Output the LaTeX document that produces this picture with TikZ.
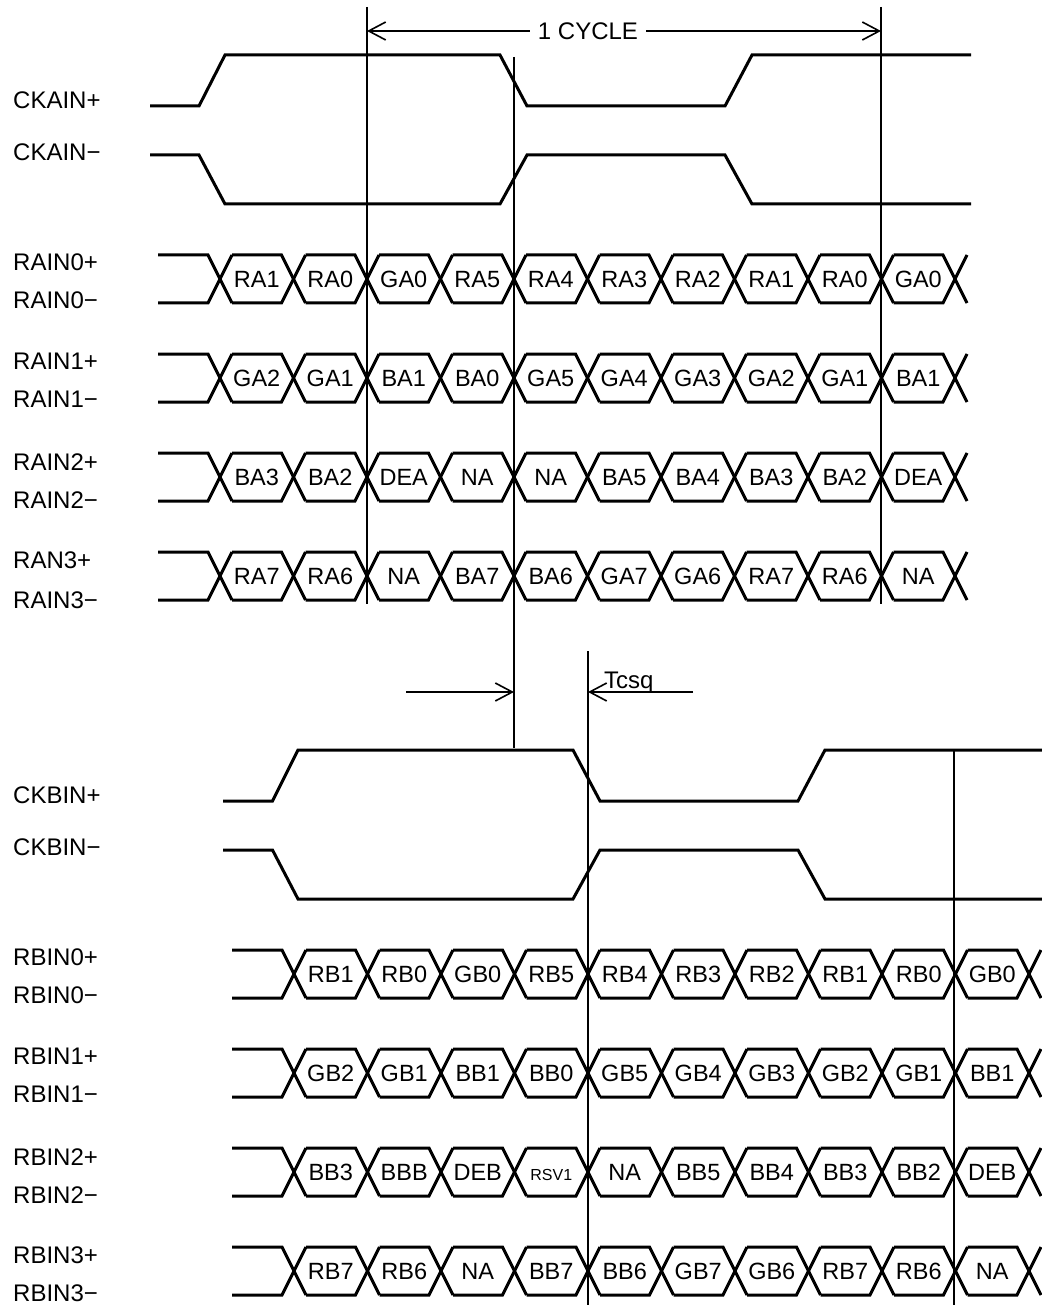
\documentclass[tikz,border=0pt]{standalone}
\usepackage{fontspec}
\setmainfont{Liberation Sans}
\usetikzlibrary{arrows.meta}
\newcommand{\rsvfont}{\fontsize{16}{16}\selectfont}
\newcommand{\drow}[5]{%
  \pgfmathsetmacro\rbot{#3+48}%
  \pgfmathsetmacro\rmid{#3+24}%
  \draw[wave] (#1,#3) -- (#2-12,#3) -- (#2+12,\rbot);
  \draw[wave] (#1,\rbot) -- (#2-12,\rbot) -- (#2+12,#3);
  \foreach \lab [count=\i from 0] in {#5} {
    \pgfmathsetmacro\ca{#2+73.5*\i}
    \pgfmathsetmacro\cb{#2+73.5*(\i+1)}
    \draw[wave] (\ca+12,#3) -- (\cb-12,#3) -- (\cb+12,\rbot);
    \draw[wave] (\ca+12,\rbot) -- (\cb-12,\rbot) -- (\cb+12,#3);
    \node[cell] (#4-\i) at ({(\ca+\cb)/2},\rmid) {\lab};
  }%
}
\begin{document}
\begin{tikzpicture}[x=1pt,y=-1pt,
  wave/.style={line width=3pt},
  vline/.style={line width=2.5pt},
  dim/.style={line width=1.6pt,-{Straight Barb[length=17pt,width=18pt,line width=1.6pt]}},
  dimboth/.style={line width=1.6pt,{Straight Barb[length=17pt,width=18pt,line width=1.6pt]}-{Straight Barb[length=17pt,width=18pt,line width=1.6pt]}},
  cell/.style={inner sep=0pt,text height=17pt,text depth=0pt,font=\fontsize{23.5}{23.5}\selectfont},
  sig/.style={anchor=west,inner sep=0pt,text height=17pt,text depth=0pt,font=\fontsize{24}{24}\selectfont}]
\useasboundingbox (0,0) rectangle (1041,1305);

% ---------- signal names ----------
\node[sig] (lckap) at (13,100) {CKAIN+};
\node[sig] (lckam) at (13,152) {CKAIN−};
\node[sig] (lr0p) at (13,262) {RAIN0+};
\node[sig] (lr0m) at (13,300) {RAIN0−};
\node[sig] (lr1p) at (13,361) {RAIN1+};
\node[sig] (lr1m) at (13,399) {RAIN1−};
\node[sig] (lr2p) at (13,462) {RAIN2+};
\node[sig] (lr2m) at (13,500) {RAIN2−};
\node[sig] (lr3p) at (13,560) {RAN3+};
\node[sig] (lr3m) at (13,600) {RAIN3−};
\node[sig] (lckbp) at (13,795) {CKBIN+};
\node[sig] (lckbm) at (13,847) {CKBIN−};
\node[sig] (lb0p) at (13,957) {RBIN0+};
\node[sig] (lb0m) at (13,995) {RBIN0−};
\node[sig] (lb1p) at (13,1056) {RBIN1+};
\node[sig] (lb1m) at (13,1094) {RBIN1−};
\node[sig] (lb2p) at (13,1157) {RBIN2+};
\node[sig] (lb2m) at (13,1195) {RBIN2−};
\node[sig] (lb3p) at (13,1255) {RBIN3+};
\node[sig] (lb3m) at (13,1293) {RBIN3−};

% ---------- clocks A ----------
\draw[wave] (150,106) -- (199,106) -- (225,55) -- (500,55) -- (527,106) -- (725,106) -- (752,55) -- (971,55);
\draw[wave] (150,155) -- (199,155) -- (225,204) -- (500,204) -- (527,155) -- (725,155) -- (752,204) -- (971,204);

% ---------- data A ----------
\drow{158}{220}{255}{a0}{RA1,RA0,GA0,RA5,RA4,RA3,RA2,RA1,RA0,GA0}
\drow{158}{220}{354}{a1}{GA2,GA1,BA1,BA0,GA5,GA4,GA3,GA2,GA1,BA1}
\drow{158}{220}{453}{a2}{BA3,BA2,DEA,NA,NA,BA5,BA4,BA3,BA2,DEA}
\drow{158}{220}{552}{a3}{RA7,RA6,NA,BA7,BA6,GA7,GA6,RA7,RA6,NA}

% ---------- clocks B ----------
\draw[wave] (223,801) -- (272.5,801) -- (298,750) -- (573,750) -- (600,801) -- (798,801) -- (825,750) -- (1045,750);
\draw[wave] (223,850) -- (272.5,850) -- (298,899) -- (573,899) -- (600,850) -- (798,850) -- (825,899) -- (1045,899);

% ---------- data B ----------
\drow{232}{294}{950}{b0}{RB1,RB0,GB0,RB5,RB4,RB3,RB2,RB1,RB0,GB0}
\drow{232}{294}{1049}{b1}{GB2,GB1,BB1,BB0,GB5,GB4,GB3,GB2,GB1,BB1}
\drow{232}{294}{1148}{b2}{BB3,BBB,DEB,{\rsvfont RSV1},NA,BB5,BB4,BB3,BB2,DEB}
\drow{232}{294}{1247}{b3}{RB7,RB6,NA,BB7,BB6,GB7,GB6,RB7,RB6,NA}

% ---------- reference lines ----------
\coordinate (v1t) at (367,7);   \coordinate (v1b) at (367,604);
\coordinate (v2t) at (514,57);  \coordinate (v2b) at (514,748);
\coordinate (v3t) at (881,7);   \coordinate (v3b) at (881,604);
\coordinate (v4t) at (588,651); \coordinate (v4b) at (588,1310);
\coordinate (v5t) at (954,750); \coordinate (v5b) at (954,1310);
\draw[vline] (v1t) -- (v1b);
\draw[vline] (v2t) -- (v2b);
\draw[vline] (v3t) -- (v3b);
\draw[vline] (v4t) -- (v4b);
\draw[vline] (v5t) -- (v5b);

% ---------- dimensions ----------
\coordinate (cyl) at (367,31);
\coordinate (cyr) at (881,31);
\draw[dimboth] (cyl) -- (cyr);
\node[fill=white,inner xsep=8pt,inner ysep=2pt,font=\fontsize{24}{24}\selectfont] (cycle) at (588,31) {1 CYCLE};

\coordinate (tl) at (406,692);
\coordinate (tla) at (514,692);
\coordinate (tr) at (693,692);
\coordinate (tra) at (588,692);
\draw[dim] (tl) -- (tla);
\draw[dim] (tr) -- (tra);
\node[anchor=base west,inner sep=0pt,font=\fontsize{24}{24}\selectfont] (tcsq) at (604,688) {Tcsq};
\end{tikzpicture}
\end{document}
